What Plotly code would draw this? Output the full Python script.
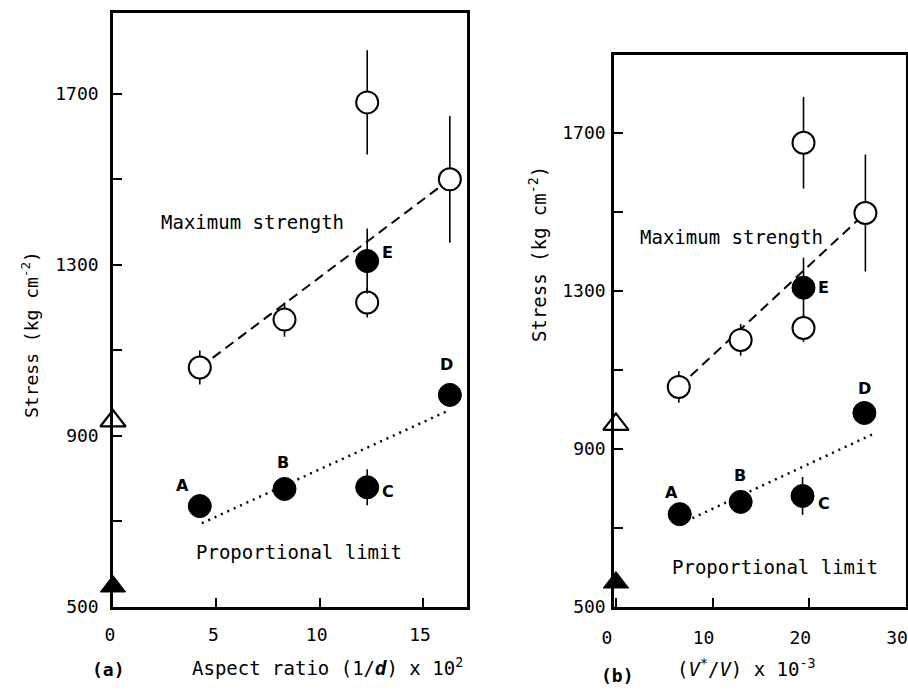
import plotly.graph_objects as go

# ---------------- data: panel (a) aspect ratio (1/d) x 10^2 ----------------
a_open_x = [4.2, 8.3, 12.3, 12.3, 16.3]
a_open_y = [1060, 1172, 1680, 1212, 1500]
a_open_err = [40, 40, 122, 35, 148]

a_E_x = [12.3]
a_E_y = [1309]
a_E_err = [76]

a_fill_x = [4.2, 8.3, 12.3, 16.3]
a_fill_y = [736, 776, 780, 996]
a_fill_err = [0, 0, 42, 0]

a_tri_open_y = [935]
a_tri_fill_y = [548]

a_dash_x = [4.2, 16.3]
a_dash_y = [1060, 1500]
a_dot_x = [4.3, 16.3]
a_dot_y = [696, 961]

# ---------------- data: panel (b) (V*/V) x 10^-3 ----------------
b_open_x = [6.5, 12.9, 19.4, 19.4, 25.8]
b_open_y = [1057, 1176, 1675, 1206, 1497]
b_open_err = [40, 40, 116, 35, 148]

b_E_x = [19.4]
b_E_y = [1308]
b_E_err = [76]

b_fill_x = [6.6, 12.9, 19.3, 25.7]
b_fill_y = [735, 766, 781, 991]
b_fill_err = [0, 0, 48, 0]

b_tri_open_y = [962]
b_tri_fill_y = [562]

b_dash_x = [6.5, 25.8]
b_dash_y = [1057, 1497]
b_dot_x = [6.6, 26.8]
b_dot_y = [710, 940]

point_labels = ["A", "B", "C", "D"]

y_tickvals = [500, 700, 900, 1100, 1300, 1500, 1700]
y_ticktext = ["500", "", "900", "", "1300", "", "1700"]
a_x_tickvals = [0, 5, 10, 15]
b_x_tickvals = [0, 10, 20, 30]

MONO = "DejaVu Sans Mono"
W, H = 908, 692


def PX(px):
    return px / W


def PY(py):
    return 1 - py / H


fig = go.Figure()


def add_panel(xa, ya, dash_x, dash_y, dot_x, dot_y, open_x, open_y, open_err,
              E_x, E_y, E_err, fill_x, fill_y, fill_err, tri_o, tri_f):
    fig.add_trace(go.Scatter(x=dash_x, y=dash_y, mode="lines", xaxis=xa, yaxis=ya,
                             line=dict(color="black", width=2, dash="10px,6px"),
                             showlegend=False, hoverinfo="skip"))
    fig.add_trace(go.Scatter(x=dot_x, y=dot_y, mode="lines", xaxis=xa, yaxis=ya,
                             line=dict(color="black", width=2.5, dash="2px,5px"),
                             showlegend=False, hoverinfo="skip"))
    fig.add_trace(go.Scatter(x=open_x, y=open_y, mode="markers", xaxis=xa, yaxis=ya,
                             error_y=dict(type="data", array=open_err, color="black",
                                          thickness=1.6, width=0),
                             marker=dict(symbol="circle", size=22, color="white",
                                         line=dict(color="black", width=2)),
                             showlegend=False))
    fig.add_trace(go.Scatter(x=E_x, y=E_y, mode="markers", xaxis=xa, yaxis=ya,
                             error_y=dict(type="data", array=E_err, color="black",
                                          thickness=1.6, width=0),
                             marker=dict(symbol="circle", size=23, color="black",
                                         line=dict(color="black", width=1)),
                             showlegend=False))
    fig.add_trace(go.Scatter(x=fill_x, y=fill_y, mode="markers", xaxis=xa, yaxis=ya,
                             error_y=dict(type="data", array=fill_err, color="black",
                                          thickness=1.6, width=0),
                             marker=dict(symbol="circle", size=23, color="black",
                                         line=dict(color="black", width=1)),
                             showlegend=False))
    fig.add_trace(go.Scatter(x=[0], y=tri_o, mode="markers", xaxis=xa, yaxis=ya,
                             cliponaxis=False,
                             marker=dict(symbol="triangle-up", size=22, color="white",
                                         line=dict(color="black", width=2.2)),
                             showlegend=False))
    fig.add_trace(go.Scatter(x=[0], y=tri_f, mode="markers", xaxis=xa, yaxis=ya,
                             cliponaxis=False,
                             marker=dict(symbol="triangle-up", size=22, color="black",
                                         line=dict(color="black", width=1)),
                             showlegend=False))


add_panel("x", "y", a_dash_x, a_dash_y, a_dot_x, a_dot_y, a_open_x, a_open_y, a_open_err,
          a_E_x, a_E_y, a_E_err, a_fill_x, a_fill_y, a_fill_err, a_tri_open_y, a_tri_fill_y)
add_panel("x2", "y2", b_dash_x, b_dash_y, b_dot_x, b_dot_y, b_open_x, b_open_y, b_open_err,
          b_E_x, b_E_y, b_E_err, b_fill_x, b_fill_y, b_fill_err, b_tri_open_y, b_tri_fill_y)

axis_common = dict(showline=True, linecolor="black", linewidth=2.5, mirror=True,
                   ticks="inside", ticklen=9, tickwidth=2, tickcolor="black",
                   showgrid=False, zeroline=False, automargin=False,
                   ticklabeloverflow="allow",
                   tickfont=dict(family=MONO, size=18, color="black"))

fig.update_layout(
    width=W, height=H,
    margin=dict(l=0, r=0, t=0, b=0, autoexpand=False),
    paper_bgcolor="white", plot_bgcolor="white",
    xaxis=dict(domain=[PX(113), PX(467)], range=[0, 17.13], tickvals=a_x_tickvals,
               ticklabelstandoff=10, ticklabelshift=-3, anchor="y", **axis_common),
    yaxis=dict(domain=[PY(607), PY(13)], range=[500, 1889], tickvals=y_tickvals,
               ticktext=y_ticktext, ticklabelstandoff=8, anchor="x", **axis_common),
    xaxis2=dict(domain=[PX(614), PX(906)], range=[-0.2, 30.0], tickvals=b_x_tickvals,
                ticklabelstandoff=13, ticklabelshift=-9, anchor="y2", **axis_common),
    yaxis2=dict(domain=[PY(607), PY(55)], range=[500, 1897], tickvals=y_tickvals,
                ticktext=y_ticktext, ticklabelstandoff=2, anchor="x2", **axis_common),
)

ann = []
mono19 = dict(family=MONO, size=19, color="black")
bold16 = dict(family="DejaVu Sans", size=16, color="black")
C = dict(showarrow=False, xanchor="center", yanchor="middle")

# in-plot texts, panel (a)
ann.append(dict(x=6.77, y=1400, xref="x", yref="y", text="Maximum strength", font=mono19, **C))
ann.append(dict(x=9.0, y=629, xref="x", yref="y", text="Proportional limit", font=mono19, **C))
for lab, (px, py) in zip(point_labels, [(3.34, 785), (8.22, 837), (13.3, 769), (16.16, 1066)]):
    ann.append(dict(x=px, y=py, xref="x", yref="y", text="<b>%s</b>" % lab, font=bold16, **C))
ann.append(dict(x=13.3, y=1330, xref="x", yref="y", text="<b>E</b>", font=bold16, **C))

# in-plot texts, panel (b)
ann.append(dict(x=12.0, y=1437, xref="x2", yref="y2", text="Maximum strength", font=mono19, **C))
ann.append(dict(x=16.4, y=601, xref="x2", yref="y2", text="Proportional limit", font=mono19, **C))
for lab, (px, py) in zip(point_labels, [(5.7, 791), (12.8, 834), (21.5, 763), (25.7, 1054)]):
    ann.append(dict(x=px, y=py, xref="x2", yref="y2", text="<b>%s</b>" % lab, font=bold16, **C))
ann.append(dict(x=21.5, y=1308, xref="x2", yref="y2", text="<b>E</b>", font=bold16, **C))

# axis titles
ytitle = "Stress (kg cm<sup>-2</sup>)"
ann.append(dict(x=PX(30), y=PY(335), xref="paper", yref="paper", text=ytitle, textangle=-90,
                font=dict(family=MONO, size=18, color="black"), **C))
ann.append(dict(x=PX(538), y=PY(254), xref="paper", yref="paper", text=ytitle, textangle=-90,
                font=dict(family=MONO, size=19, color="black"), **C))
ann.append(dict(x=PX(327), y=PY(667), xref="paper", yref="paper",
                text="Aspect ratio (1/<b><i>d</i></b>) x 10<sup>2</sup>",
                font=dict(family=MONO, size=19, color="black"), **C))
ann.append(dict(x=PX(108), y=PY(669), xref="paper", yref="paper", text="<b>(a)</b>",
                font=dict(family=MONO, size=18, color="black"), **C))
ann.append(dict(x=PX(746), y=PY(668), xref="paper", yref="paper",
                text="(<i>V</i><sup>*</sup>/<i>V</i>) x 10<sup>-3</sup>",
                font=dict(family=MONO, size=19, color="black"), **C))
ann.append(dict(x=PX(617), y=PY(675), xref="paper", yref="paper", text="<b>(b)</b>",
                font=dict(family=MONO, size=18, color="black"), **C))

fig.update_layout(annotations=ann)

fig.write_html("out.html",
               config={"displayModeBar": False},
               post_script="document.body.style.margin='0px';"
                           "document.body.style.overflow='hidden';")
